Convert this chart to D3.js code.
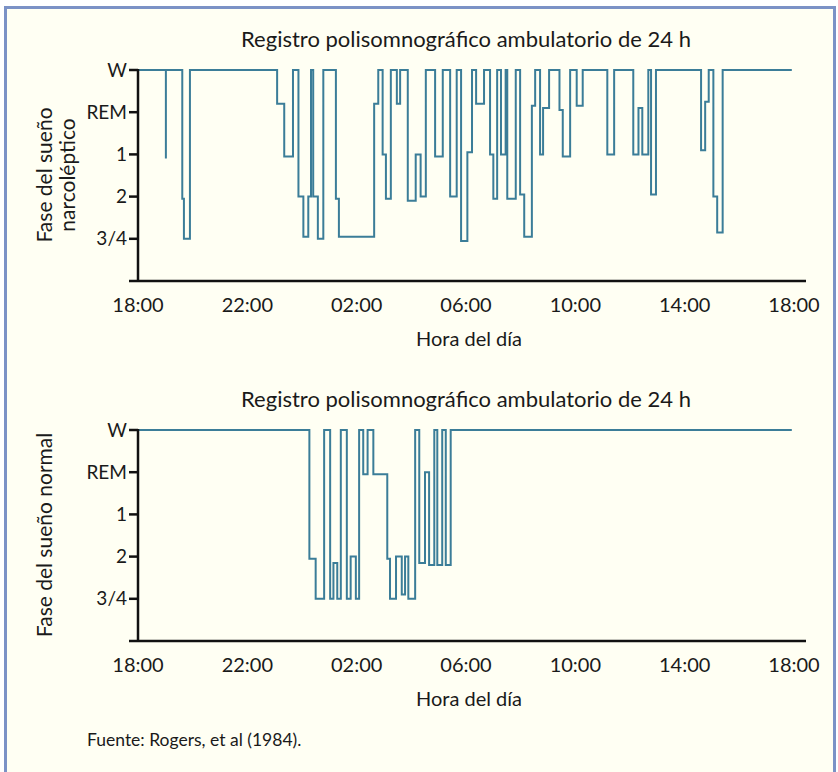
<!DOCTYPE html>
<html>
<head>
<meta charset="utf-8">
<script src="https://cdn.jsdelivr.net/npm/d3@7"></script>
<style>
  body { margin: 0; background: #ffffff; }
  text { font-family: Lato, "Noto Sans", sans-serif; fill: #1a1a1a; }
</style>
</head>
<body>
<svg id="chart"></svg>
<script>
// horas desde las 18:00 y fase del sueño (0 = W, 1 = REM, 2 = 1, 3 = 2, 4 = 3/4)
var narcTimes = [0, 1.02, 1.02, 1.62, 1.68, 1.90, 5.09, 5.35, 5.67, 5.87, 6.05, 6.23, 6.33, 6.41, 6.58, 6.78,
  7.24, 7.35, 8.64, 8.79, 8.95, 9.07, 9.25, 9.47, 9.59, 9.87, 10.16, 10.34, 10.53, 10.87, 11.15, 11.42,
  11.66, 11.82, 12.05, 12.22, 12.37, 12.66, 12.88, 13.00, 13.14, 13.28, 13.45, 13.51, 13.82, 13.98, 14.13,
  14.41, 14.53, 14.71, 14.82, 15.04, 15.42, 15.54, 15.81, 16.05, 16.27, 17.17, 17.42, 18.12, 18.31, 18.45,
  18.67, 18.77, 18.95, 20.60, 20.75, 20.88, 21.05, 21.19, 21.39, 23.92];
var narcStages = [0, 2.1, 0, 3.05, 4, 0, 0.8, 2.05, 0, 3, 3.95, 3, 0, 3, 4, 0,
  3.05, 3.95, 0.8, 0, 2, 3.05, 0, 0.8, 0, 3.1, 2, 3, 0, 2.05, 0, 3,
  0, 4.05, 1.95, 0, 0.8, 0, 2, 3.05, 0, 2, 0, 3.05, 0, 2.95, 3.95,
  0.85, 0, 2, 0.9, 0, 0.95, 2.05, 0, 0.85, 0, 2, 0, 2, 0.9, 2,
  0, 2.95, 0, 1.9, 0.75, 0, 3, 3.85, 0, 0];

var normalTimes = [0, 6.27, 6.50, 6.81, 7.03, 7.15, 7.29, 7.42, 7.64, 7.78, 7.97, 8.09, 8.24, 8.40, 8.61,
  9.12, 9.22, 9.44, 9.65, 9.77, 9.89, 10.14, 10.29, 10.50, 10.65, 10.84, 10.95, 11.13, 11.26, 11.44, 23.92];
var normalStages = [0, 3.05, 4, 0, 4, 3.15, 4, 0, 4, 3, 4, 0, 1.05, 0, 1.05,
  3.05, 4, 3, 3.9, 3, 4, 0, 3.15, 1, 3.2, 0, 3.2, 0, 3.2, 0, 0];

var stageLabels = ["W", "REM", "1", "2", "3/4"];
var hourLabels = ["18:00", "22:00", "02:00", "06:00", "10:00", "14:00", "18:00"];

var width = 838, height = 772;
var svg = d3.select("#chart").attr("width", width).attr("height", height);

svg.append("rect")
    .attr("x", 5.5).attr("y", 7.5)
    .attr("width", 829).attr("height", 800)
    .attr("fill", "#fffff3")
    .attr("stroke", "#7b92c6")
    .attr("stroke-width", 3);

var x = d3.scaleLinear().domain([0, 24]).range([138, 794]);

function panel(top, times, stages, yTitle) {
    var g = svg.append("g").attr("transform", "translate(0," + top + ")");
    var y = d3.scaleLinear().domain([0, 5]).range([0, 211]);

    g.append("text")
        .attr("x", 466).attr("y", -23)
        .attr("text-anchor", "middle")
        .style("font-size", "22px")
        .text("Registro polisomnográfico ambulatorio de 24 h");

    // traza del hipnograma
    var pts = times.map(function(t, i) { return [t, stages[i]]; });
    var line = d3.line()
        .x(function(d) { return x(d[0]); })
        .y(function(d) { return y(d[1]); })
        .curve(d3.curveStepAfter);
    g.append("path")
        .datum(pts)
        .attr("d", line)
        .attr("fill", "none")
        .attr("stroke", "#3b7d98")
        .attr("stroke-width", 2);

    // eje y
    g.append("line")
        .attr("x1", x(0)).attr("x2", x(0))
        .attr("y1", y(0) - 1).attr("y2", y(5))
        .attr("stroke", "#111").attr("stroke-width", 2.5);
    stageLabels.forEach(function(s, i) {
        g.append("line")
            .attr("x1", x(0) - 9).attr("x2", x(0))
            .attr("y1", y(i)).attr("y2", y(i))
            .attr("stroke", "#111").attr("stroke-width", 2.5);
        g.append("text")
            .attr("x", x(0) - 11).attr("y", y(i))
            .attr("dy", "0.35em")
            .attr("text-anchor", "end")
            .style("font-size", "19px")
            .text(s);
    });

    // eje x
    g.append("line")
        .attr("x1", x(0) - 9).attr("x2", 806)
        .attr("y1", y(5)).attr("y2", y(5))
        .attr("stroke", "#111").attr("stroke-width", 2.5);
    hourLabels.forEach(function(h, i) {
        g.append("text")
            .attr("x", x(i * 4)).attr("y", y(5) + 24)
            .attr("dy", "0.35em")
            .attr("text-anchor", "middle")
            .style("font-size", "20px")
            .text(h);
    });
    g.append("text")
        .attr("x", 469).attr("y", y(5) + 58)
        .attr("dy", "0.35em")
        .attr("text-anchor", "middle")
        .style("font-size", "20px")
        .text("Hora del día");

    var yt = g.append("text")
        .attr("transform", "translate(" + (yTitle.length > 1 ? 56 : 45) + "," + 105 + ") rotate(-90)")
        .attr("text-anchor", "middle")
        .style("font-size", "21px");
    yTitle.forEach(function(l, i) {
        yt.append("tspan")
            .attr("x", 0)
            .attr("dy", i == 0 ? (yTitle.length > 1 ? "-0.2em" : "0.35em") : "1.1em")
            .text(l);
    });
}

panel(70, narcTimes, narcStages, ["Fase del sueño", "narcoléptico"]);
panel(430, normalTimes, normalStages, ["Fase del sueño normal"]);

svg.append("text")
    .attr("x", 87).attr("y", 740)
    .attr("dy", "0.35em")
    .style("font-size", "17.5px")
    .text("Fuente: Rogers, et al (1984).");
</script>
</body>
</html>
